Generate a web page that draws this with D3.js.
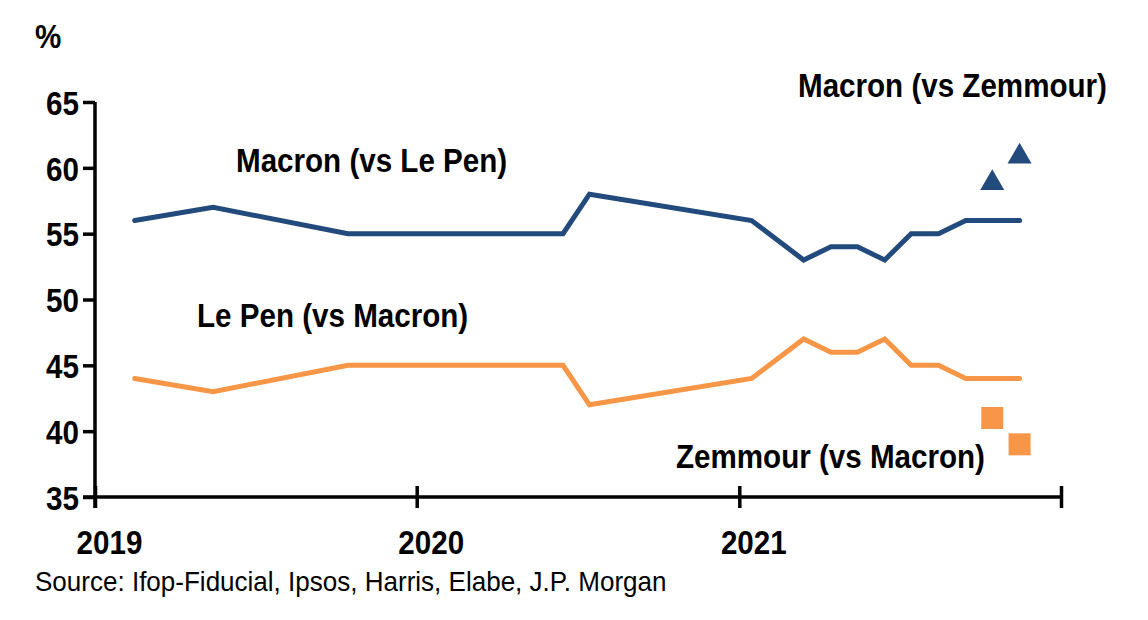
<!DOCTYPE html>
<html>
<head>
<meta charset="utf-8">
<script src="https://cdn.jsdelivr.net/npm/d3@7"></script>
<style>
  body { margin: 0; background: #fff; }
  text { font-family: "Liberation Sans Narrow", "Arial Narrow", "Liberation Sans", Arial, sans-serif; }
</style>
</head>
<body>
<script>
// poll dates (mid-month) and values, %
var pollDates = ['2019-02-15', '2019-05-15', '2019-10-15', '2020-06-15', '2020-07-15',
  '2021-01-15', '2021-03-15', '2021-04-15', '2021-05-15', '2021-06-15',
  '2021-07-15', '2021-08-15', '2021-09-15', '2021-11-15'];
var macronVsLePen = [56, 57, 55, 55, 58, 56, 53, 54, 54, 53, 55, 55, 56, 56];
var lePenVsMacron = [44, 43, 45, 45, 42, 44, 47, 46, 46, 47, 45, 45, 44, 44];

var zemmourDates = ['2021-10-15', '2021-11-15'];
var macronVsZemmour = [59, 61];
var zemmourVsMacron = [41, 39];

var yTicks = [35, 40, 45, 50, 55, 60, 65];
var xTicks = ['2019-01-01', '2020-01-01', '2021-01-01', '2022-01-01'];
var xTickLabels = ['2019', '2020', '2021', ''];

var navy = '#234a7c', orange = '#f79646';
var parse = d3.timeParse('%Y-%m-%d');

// squeeze tick text horizontally to mimic a narrow face
function condense(sel, k) {
  sel.each(function() {
    var w = this.getComputedTextLength();
    if (w > 0) d3.select(this).attr('textLength', w * k).attr('lengthAdjust', 'spacingAndGlyphs');
  });
}

var svg = d3.select('body').append('svg')
  .attr('width', 1148)
  .attr('height', 620);

var x = d3.scaleTime()
  .domain([parse('2019-01-01'), parse('2022-01-01')])
  .range([95, 1061]);
var y = d3.scaleLinear().domain([35, 65]).range([497, 102]);

// y axis
var yAxis = svg.append('g').attr('transform', 'translate(95,0)')
  .call(d3.axisLeft(y).tickValues(yTicks).tickSize(12).tickPadding(4));
yAxis.select('.domain').attr('d', 'M0,' + y(65) + 'V508');
yAxis.selectAll('text').attr('font-size', 34).attr('font-weight', 'bold')
  .attr('fill', '#000').attr('dy', '0.36em');

// x axis
var xAxis = svg.append('g').attr('transform', 'translate(0,' + y(35) + ')')
  .call(d3.axisBottom(x).tickValues(xTicks.map(parse))
    .tickFormat((d, i) => xTickLabels[i]).tickSize(11).tickPadding(22));
xAxis.select('.domain').attr('d', 'M83,0H' + x(parse('2022-01-01')));
xAxis.selectAll('.tick line').attr('y1', -11);
xAxis.selectAll('text').attr('font-size', 34).attr('font-weight', 'bold')
  .attr('fill', '#000').attr('dx', 14);
svg.selectAll('.domain, .tick line').attr('stroke', '#000').attr('stroke-width', 3.5);
condense(svg.selectAll('.tick text'), 0.87);

var line = d3.line().x((d, i) => x(parse(pollDates[i]))).y(d => y(d));

svg.append('path').datum(macronVsLePen)
  .attr('d', line).attr('fill', 'none').attr('stroke', navy)
  .attr('stroke-width', 5).attr('stroke-linecap', 'round');
svg.append('path').datum(lePenVsMacron)
  .attr('d', line).attr('fill', 'none').attr('stroke', orange)
  .attr('stroke-width', 5).attr('stroke-linecap', 'round');

// Zemmour polls
svg.selectAll('.tri').data(macronVsZemmour).enter().append('path')
  .attr('class', 'tri')
  .attr('d', d3.symbol().type(d3.symbolTriangle).size(250))
  .attr('transform', (d, i) => 'translate(' + x(parse(zemmourDates[i])) + ',' + (y(d) + 2) + ')')
  .attr('fill', navy);
svg.selectAll('.sq').data(zemmourVsMacron).enter().append('rect')
  .attr('class', 'sq')
  .attr('x', (d, i) => x(parse(zemmourDates[i])) - 11)
  .attr('y', d => y(d) - 11)
  .attr('width', 22).attr('height', 22)
  .attr('fill', orange);

// labels (condensed with a scale transform)
var labels = [
  { t: 'Macron (vs Le Pen)', x: 236, y: 172, s: 34, w: 'bold', k: 0.87 },
  { t: 'Le Pen (vs Macron)', x: 197, y: 327, s: 34, w: 'bold', k: 0.87 },
  { t: 'Macron (vs Zemmour)', x: 798, y: 97, s: 34, w: 'bold', k: 0.87 },
  { t: 'Zemmour (vs Macron)', x: 676, y: 468, s: 34, w: 'bold', k: 0.87 },
  { t: '%', x: 35, y: 48, s: 34, w: 'bold', k: 0.87 },
  { t: 'Source: Ifop-Fiducial, Ipsos, Harris, Elabe, J.P. Morgan', x: 35, y: 591, s: 28, w: 'normal', k: 0.93 }
];
svg.selectAll('.lab').data(labels).enter().append('text')
  .attr('class', 'lab')
  .attr('transform', d => 'translate(' + d.x + ',' + d.y + ') scale(' + d.k + ',1)')
  .attr('font-size', d => d.s).attr('font-weight', d => d.w).text(d => d.t);
</script>
</body>
</html>
